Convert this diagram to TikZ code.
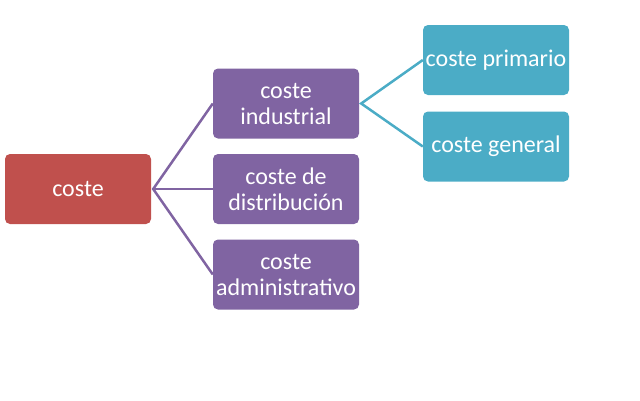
\documentclass[tikz,border=0pt]{standalone}
\usepackage{fontspec}
\setmainfont{Carlito}
\definecolor{cred}{HTML}{C0504D}
\definecolor{cpurple}{HTML}{8064A2}
\definecolor{cteal}{HTML}{4BACC6}
\begin{document}
\begin{tikzpicture}[x=1pt,y=-1pt,
  box/.style={rounded corners=5pt,minimum width=146pt,minimum height=70pt,inner sep=0pt,
    text=white,align=center,font=\fontsize{24}{26}\selectfont},
  redbox/.style={box,fill=cred},
  purplebox/.style={box,fill=cpurple},
  tealbox/.style={box,fill=cteal},
  plink/.style={draw=cpurple,line width=2.5pt},
  tlink/.style={draw=cteal,line width=2.5pt}]
\useasboundingbox (0,0) rectangle (640,400);
\node[redbox] (c) at (78,189) {coste};
\node[purplebox] (ind) at (286,103.5) {coste\\industrial};
\node[purplebox] (dis) at (286,189) {coste de\\distribución};
\node[purplebox] (adm) at (286,274.5) {coste\\administrativo};
\node[tealbox] (pri) at (496,60) {coste primario};
\node[tealbox] (gen) at (496,146.5) {coste general};
\coordinate (cr) at ([xshift=2pt]c.east);
\coordinate (ir) at ([xshift=2pt]ind.east);
\draw[plink] (ind.west) -- (cr) -- (adm.west);
\draw[plink] (cr) -- (dis.west);
\draw[tlink] (pri.west) -- (ir) -- (gen.west);
\end{tikzpicture}
\end{document}
